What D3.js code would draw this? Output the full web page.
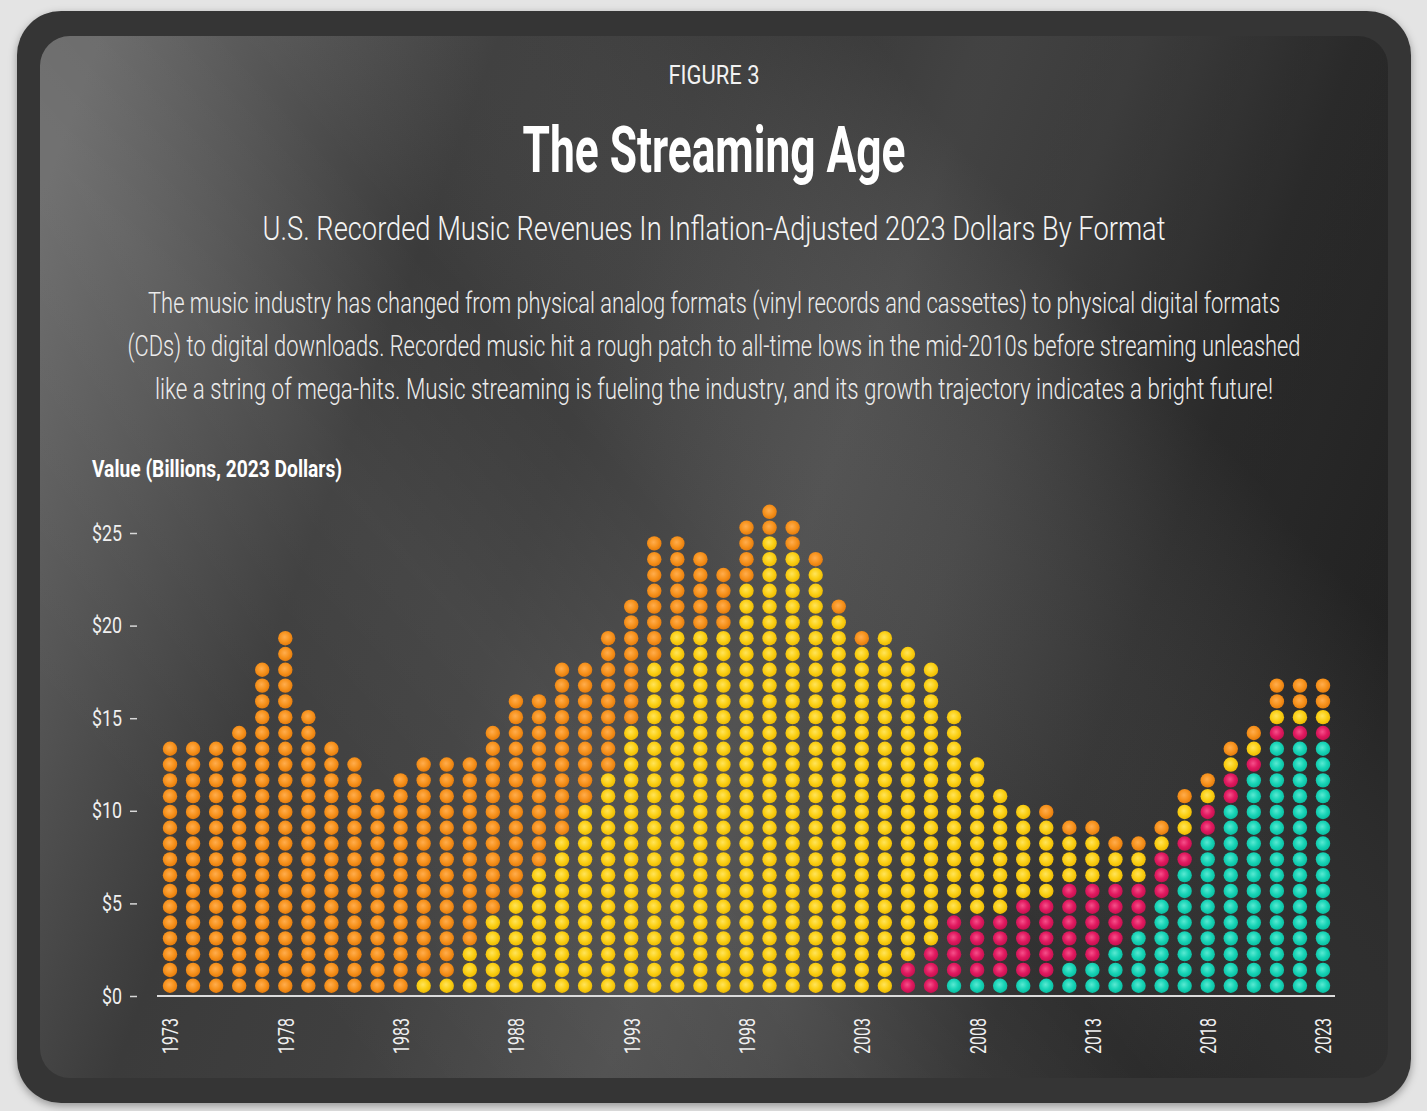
<!DOCTYPE html>
<html>
<head>
<meta charset="utf-8">
<script src="https://cdn.jsdelivr.net/npm/d3@7"></script>
<style>
 body { margin: 0; background: #e4e4e4; }
 svg { display: block; }
 text { font-family: "Roboto", "Liberation Sans", sans-serif; }
</style>
</head>
<body>
<svg id="chart" width="1427" height="1111"></svg>
<script>
// Years on the x axis
var years = d3.range(1973, 2024);

// Dots per year and per format (1 dot ~ $0.853B, 2023 dollars)
var analog =    [16,16,16,17,21,23,18,16,15,13, 14,14,14,12,12,13,11,11,9,9, 8,8,6,5,4,4,2,2,1,1, 1,0,0,0,0,0,0,0,1,1, 1,1,1,1,1,1,1,1,2,2, 2];
var cds =       [0,0,0,0,0,0,0,0,0,0, 0,1,1,3,5,6,8,10,12,14, 17,21,23,23,23,26,29,28,27,24, 22,23,20,18,13,10,8,6,5,3, 3,2,2,1,2,1,1,1,1,1, 1];
var downloads = [0,0,0,0,0,0,0,0,0,0, 0,0,0,0,0,0,0,0,0,0, 0,0,0,0,0,0,0,0,0,0, 0,0,2,3,4,4,4,5,5,5, 5,4,3,3,2,2,2,1,1,1, 1];
var streaming = [0,0,0,0,0,0,0,0,0,0, 0,0,0,0,0,0,0,0,0,0, 0,0,0,0,0,0,0,0,0,0, 0,0,0,0,1,1,1,1,1,2, 2,3,4,6,8,10,12,14,16,16, 16];

// Stack order, bottom to top
var formats = ["streaming", "downloads", "cds", "analog"];
var series = { streaming: streaming, downloads: downloads, cds: cds, analog: analog };

var dotValue = 0.853;
var yTicks = [0, 5, 10, 15, 20, 25];
var yearTicks = [1973, 1978, 1983, 1988, 1993, 1998, 2003, 2008, 2013, 2018, 2023];

var descLines = [
  "The music industry has changed from physical analog formats (vinyl records and cassettes) to physical digital formats",
  "(CDs) to digital downloads. Recorded music hit a rough patch to all-time lows in the mid-2010s before streaming unleashed",
  "like a string of mega-hits. Music streaming is fueling the industry, and its growth trajectory indicates a bright future!"
];
var descWidths = [1132, 1173, 1118];

var colors = {
  analog:    ["#ffad4e", "#f7931e", "#e47a0a"],
  cds:       ["#ffe45c", "#fbd016", "#ecb800"],
  downloads: ["#f5508a", "#e11a60", "#c40f4e"],
  streaming: ["#5ae9d2", "#19d4b7", "#08bc9f"]
};

var svg = d3.select("#chart");
var defs = svg.append("defs");

// drop shadow for the frame
var shadow = defs.append("filter").attr("id", "shadow")
  .attr("x", "-5%").attr("y", "-5%").attr("width", "110%").attr("height", "110%");
shadow.append("feDropShadow").attr("dx", 0).attr("dy", 3).attr("stdDeviation", 4)
  .attr("flood-color", "#000").attr("flood-opacity", 0.35);

// panel background sheen
var bg = defs.append("linearGradient").attr("id", "panelBg")
  .attr("gradientUnits", "userSpaceOnUse")
  .attr("x1", 40).attr("y1", 200).attr("x2", 1388).attr("y2", 700);
[[0, "#6a6a6a"], [0.12, "#555"], [0.26, "#3b3b3b"], [0.4, "#3f3f3f"], [0.58, "#4f4f4f"],
 [0.68, "#474747"], [0.82, "#323232"], [1, "#282828"]].forEach(function (s) {
  bg.append("stop").attr("offset", s[0]).attr("stop-color", s[1]);
});

var sheen = defs.append("linearGradient").attr("id", "sheen")
  .attr("gradientUnits", "userSpaceOnUse")
  .attr("x1", 300).attr("y1", 1000).attr("x2", 1100).attr("y2", 300);
[[0, "#fff", 0], [0.35, "#fff", 0.05], [0.55, "#fff", 0.0], [1, "#000", 0.16]].forEach(function (s) {
  sheen.append("stop").attr("offset", s[0]).attr("stop-color", s[1]).attr("stop-opacity", s[2]);
});

formats.forEach(function (f) {
  var g = defs.append("radialGradient").attr("id", "dot-" + f)
    .attr("cx", "45%").attr("cy", "42%").attr("r", "60%");
  g.append("stop").attr("offset", "0%").attr("stop-color", colors[f][0]);
  g.append("stop").attr("offset", "55%").attr("stop-color", colors[f][1]);
  g.append("stop").attr("offset", "100%").attr("stop-color", colors[f][2]);
});

// Frame and panel
svg.append("rect").attr("x", 17).attr("y", 11).attr("width", 1394).attr("height", 1092)
  .attr("rx", 44).attr("fill", "#363636").attr("filter", "url(#shadow)");
svg.append("rect").attr("x", 40).attr("y", 36).attr("width", 1348).attr("height", 1042)
  .attr("rx", 30).attr("fill", "url(#panelBg)");
svg.append("rect").attr("x", 40).attr("y", 36).attr("width", 1348).attr("height", 1042)
  .attr("rx", 30).attr("fill", "url(#sheen)");

// Titles
var cx = 714;
svg.append("text").attr("x", cx).attr("y", 84).attr("text-anchor", "middle")
  .attr("font-size", 25).attr("fill", "#f2f2f2")
  .attr("textLength", 91).attr("lengthAdjust", "spacingAndGlyphs")
  .text("FIGURE 3");

svg.append("text").attr("x", cx).attr("y", 172).attr("text-anchor", "middle")
  .attr("font-size", 64).attr("font-weight", 700).attr("fill", "#fff")
  .attr("textLength", 383).attr("lengthAdjust", "spacingAndGlyphs")
  .text("The Streaming Age");

svg.append("text").attr("x", cx).attr("y", 240).attr("text-anchor", "middle")
  .attr("font-size", 33).attr("font-weight", 300).attr("fill", "#f4f4f4")
  .attr("textLength", 903).attr("lengthAdjust", "spacingAndGlyphs")
  .text("U.S. Recorded Music Revenues In Inflation-Adjusted 2023 Dollars By Format");

// description: smaller glyphs stretched vertically so they read as a condensed face
svg.selectAll(".desc").data(descLines).enter().append("g")
  .attr("class", "desc")
  .attr("transform", function (d, i) { return "translate(" + cx + "," + (313 + i * 43) + ") scale(1,1.35)"; })
  .append("text")
  .attr("x", 0).attr("y", 0)
  .attr("text-anchor", "middle")
  .attr("font-size", 21.5).attr("font-weight", 300).attr("fill", "#ececec")
  .attr("textLength", function (d, i) { return descWidths[i]; })
  .attr("lengthAdjust", "spacingAndGlyphs")
  .text(function (d) { return d; });

svg.append("text").attr("x", 92).attr("y", 477)
  .attr("font-size", 24).attr("font-weight", 700).attr("fill", "#fff")
  .attr("textLength", 250).attr("lengthAdjust", "spacingAndGlyphs")
  .text("Value (Billions, 2023 Dollars)");

// Scales
var x = d3.scalePoint().domain(years).range([170, 1323]);
var y = d3.scaleLinear().domain([0, 25]).range([996, 533]);

// Y axis
var yAxis = svg.append("g").attr("transform", "translate(137,0)")
  .call(d3.axisLeft(y).tickValues(yTicks).tickSize(7).tickPadding(8)
    .tickFormat(function (d) { return "$" + d; }));
yAxis.select(".domain").remove();
yAxis.selectAll("line").attr("stroke", "#d8d8d8").attr("stroke-width", 1.5);
yAxis.selectAll("text").attr("fill", "#f0f0f0").attr("font-size", 22)
  .attr("font-family", "Roboto, sans-serif")
  .attr("textLength", function (d) { return d < 10 ? 20 : 30; })
  .attr("lengthAdjust", "spacingAndGlyphs");

// X axis (rotated year labels)
var xAxis = svg.append("g").attr("transform", "translate(0," + y(0) + ")")
  .call(d3.axisBottom(x).tickValues(yearTicks).tickSize(0).tickPadding(0));
xAxis.select(".domain").remove();
xAxis.selectAll("text")
  .attr("transform", "rotate(-90)")
  .attr("x", -22).attr("y", 0).attr("dy", "0.36em")
  .attr("text-anchor", "end")
  .attr("fill", "#f0f0f0").attr("font-size", 22)
  .attr("font-family", "Roboto, sans-serif")
  .attr("textLength", 36).attr("lengthAdjust", "spacingAndGlyphs");

// Baseline
svg.append("line").attr("x1", x.range()[0] - 13).attr("x2", x.range()[1] + 12)
  .attr("y1", y(0)).attr("y2", y(0))
  .attr("stroke", "#dcdcdc").attr("stroke-width", 2);

// Build dots
var dots = [];
years.forEach(function (yr, k) {
  var n = 0;
  formats.forEach(function (f) {
    for (var j = 0; j < series[f][k]; j++) {
      dots.push({ year: yr, format: f, i: n });
      n++;
    }
  });
});

svg.append("g").attr("class", "dots")
  .selectAll("circle")
  .data(dots)
  .enter().append("circle")
  .attr("cx", function (d) { return x(d.year); })
  .attr("cy", function (d) { return y(dotValue * (d.i + 0.65)); })
  .attr("r", 7.2)
  .attr("fill", function (d) { return "url(#dot-" + d.format + ")"; });
</script>
</body>
</html>
